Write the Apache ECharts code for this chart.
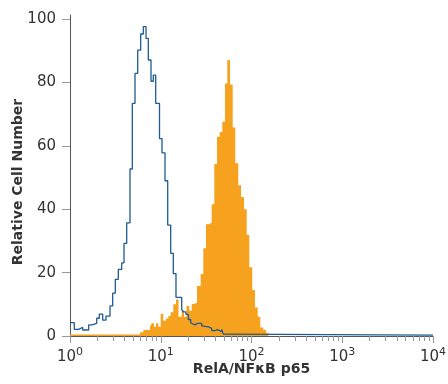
<!DOCTYPE html>
<html>
<head>
<meta charset="utf-8">
<script src="https://cdn.jsdelivr.net/npm/echarts@6/dist/echarts.min.js"></script>
<style>
html,body{margin:0;padding:0;background:#fff;}
#chart{width:448px;height:384px;}
</style>
</head>
<body>
<div id="chart"></div>
<script>
// Isotype control (blue outline): left bin edges (fluorescence) and counts
const blueEdges = [1.00,1.115,1.247,1.380,1.607,1.748,1.969,2.103,2.293,2.493,2.760,2.954,3.157,3.406,3.713,3.936,4.215,4.584,4.860,5.203,5.572,6.012,6.424,6.878,7.294,7.809,8.279,8.799,9.69,10.32,11.14,11.93,12.87,13.75,14.72,17.02,17.72,18.97,20.12,21.38,22.49,23.85,25.28,26.59,28.27,29.44,33.42,36.42,39.61,42.0,44.18,46.95,48.90,52.36];
const blueCounts = [4.2,2.1,2.7,1.9,3.5,4.0,5.6,6.9,5.0,6.3,9.5,13.5,17.9,21.0,23.1,29.2,35.7,52.7,73.4,82.9,90.2,95.3,97.6,93.9,87.1,80.4,82.3,73.4,62.3,57.8,49.0,35.0,26.1,19.7,12.2,8.4,7.6,6.8,5.2,4.1,3.5,4.0,3.5,4.0,3.2,2.9,2.4,1.7,2.0,2.4,1.4,2.1,0.6,0.3];
const blueEnd = 10000;

// RelA/NFkB p65 stained (orange filled)
const orangeEdges = [1.0,5.906,6.424,7.613,7.950,8.426,8.866,9.397,9.99,10.67,11.43,12.11,12.87,13.75,14.72,15.69,17.02,18.04,19.22,20.63,21.93,23.25,25.08,27.55,29.44,31.52,34.01,36.42,38.92,41.68,44.63,47.68,51.05,54.13,57.96,62.07,66.30,71.52,76.61,82.69,88.55,94.56,102.0,109.3,117.1,125.0,134.9,144.5];
const orangeCounts = [0.5,1.2,1.9,2.9,4.0,2.9,4.0,2.9,7.0,4.8,5.5,6.3,7.5,10.0,11.5,6.1,8.0,6.1,9.5,8.0,10.1,10.5,15.8,19.6,27.7,35.3,35.7,41.6,54.3,62.9,64.4,67.6,79.7,87.1,79.4,65.8,54.5,47.6,43.9,40.0,31.9,21.7,14.5,9.0,6.1,2.7,1.9,1.0];
const orangeEnd = 153.1;

const xMajorTicks = [1,10,100,1000,10000];
const xMajorExponents = ['0','1','2','3','4'];
const xMinorTicks = [2,3,4,5,6,7,8,9,20,30,40,50,60,70,80,90,200,300,400,500,600,700,800,900,2000,3000,4000,5000,6000,7000,8000,9000];
const yTicks = [0,20,40,60,80,100];

function stepData(edges, counts, end){
  const d = edges.map((e,i)=>[Math.log10(e), counts[i]]);
  d.push([Math.log10(end), counts[counts.length-1]]);
  return d;
}
const FONT = 'DejaVu Sans';
const lg = v => Math.log10(v);

const chart = echarts.init(document.getElementById('chart'), null, {renderer:'canvas'});
chart.setOption({
  animation:false,
  grid:{left:70, right:15, top:15, bottom:48, containLabel:false, outerBoundsMode:'none'},
  xAxis:[{
    type:'value', min:0, max:4, position:'bottom',
    name:'RelA/NF\u03BAB p65', nameLocation:'middle', nameGap:26, nameMoveOverlap:false,
    nameTextStyle:{fontFamily:FONT, fontSize:14, fontWeight:'bold', color:'#333'},
    axisLine:{show:true, lineStyle:{color:'#555', width:1}},
    axisTick:{show:true, length:7, lineStyle:{color:'#999'}, customValues:xMajorTicks.map(lg)},
    axisLabel:{show:true, margin:9, color:'#333',
      customValues:xMajorTicks.map(lg),
      formatter:function(v){ const i = xMajorTicks.map(lg).findIndex(t=>Math.abs(t-v)<1e-6); return i>=0?'{b|10}{s|'+xMajorExponents[i]+'}':''; },
      rich:{
        b:{fontFamily:FONT, fontSize:15, color:'#333', verticalAlign:'bottom', lineHeight:20},
        s:{fontFamily:FONT, fontSize:11, color:'#333', verticalAlign:'bottom', lineHeight:20, padding:[0,0,7,0]}
      }},
    splitLine:{show:false}
  },{
    type:'value', min:0, max:4, position:'bottom',
    axisLine:{show:false},
    axisTick:{show:true, length:5, lineStyle:{color:'#999'}, customValues:xMinorTicks.map(lg)},
    axisLabel:{show:false},
    splitLine:{show:false}
  }],
  yAxis:{
    type:'value', min:0, max:101.3,
    name:'Relative Cell Number', nameLocation:'middle', nameGap:45, nameMoveOverlap:false,
    nameTextStyle:{fontFamily:FONT, fontSize:14, fontWeight:'bold', color:'#333', padding:[0,13,0,0]},
    axisLine:{show:true, lineStyle:{color:'#555', width:1}},
    axisTick:{show:true, length:8, lineStyle:{color:'#999'}, customValues:yTicks},
    axisLabel:{margin:14, fontFamily:FONT, fontSize:15, color:'#333', customValues:yTicks},
    splitLine:{show:false}
  },
  series:[{
    type:'line', step:'end', symbol:'none', xAxisIndex:0,
    data:stepData(orangeEdges, orangeCounts, orangeEnd),
    lineStyle:{width:0, color:'#F7A21E'},
    areaStyle:{color:'#F7A21E', opacity:1},
    z:2
  },{
    type:'line', step:'end', symbol:'none', xAxisIndex:0,
    data:stepData(blueEdges, blueCounts, blueEnd),
    lineStyle:{width:1.3, color:'#1D5B94'},
    z:3
  }]
});
</script>
</body>
</html>
